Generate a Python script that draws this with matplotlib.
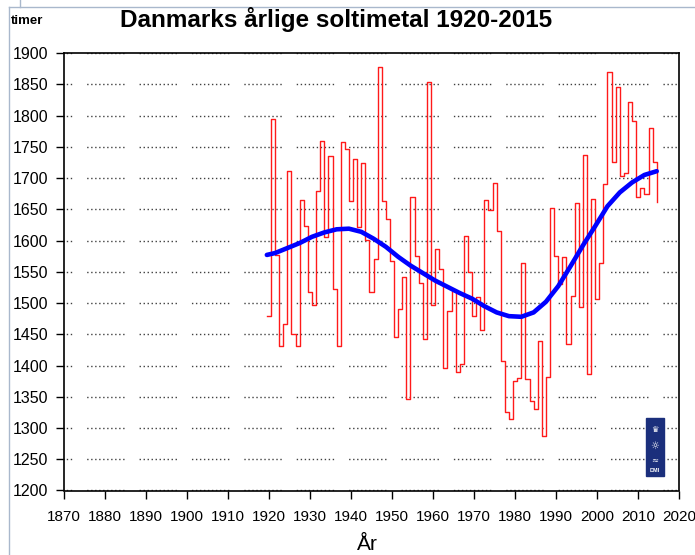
# Danmarks årlige soltimetal 1920-2015 (DMI-style chart)
import numpy as np
import matplotlib

matplotlib.use("Agg")
import matplotlib.pyplot as plt
from matplotlib.lines import Line2D
from matplotlib.patches import Rectangle

plt.rcParams.update(
    {
        "font.family": ["Liberation Sans", "DejaVu Sans"],
        "lines.scale_dashes": False,
    }
)

# ---- data -----------------------------------------------------------------
years = np.arange(1920, 2016)
sunshine = [
    1480, 1794, 1577, 1431, 1466, 1712, 1450, 1431, 1665, 1623,  # 1920-29
    1518, 1497, 1679, 1760, 1606, 1736, 1523, 1431, 1757, 1746,  # 1930-39
    1663, 1730, 1622, 1724, 1601, 1518, 1571, 1877, 1663, 1634,  # 1940-49
    1567, 1445, 1491, 1542, 1347, 1670, 1576, 1532, 1442, 1853,  # 1950-59
    1497, 1586, 1555, 1396, 1488, 1520, 1389, 1402, 1607, 1550,  # 1960-69
    1480, 1509, 1457, 1665, 1649, 1692, 1616, 1407, 1326, 1314,  # 1970-79
    1376, 1380, 1564, 1378, 1344, 1331, 1440, 1288, 1382, 1652,  # 1980-89
    1576, 1530, 1573, 1434, 1512, 1660, 1493, 1737, 1387, 1666,  # 1990-99
    1507, 1564, 1690, 1869, 1725, 1846, 1703, 1708, 1821, 1792,  # 2000-09
    1669, 1684, 1674, 1780, 1726, 1661,                          # 2010-15
]

# smoothed trend (blue curve)
trend_years = np.array([
    1920, 1922, 1925, 1928, 1931, 1934, 1937, 1940, 1943, 1946, 1949,
    1952, 1955, 1958, 1961, 1964, 1967, 1970, 1973, 1976, 1979, 1982,
    1985, 1988, 1991, 1994, 1997, 2000, 2003, 2006, 2009, 2012, 2015,
])
trend = [
    1577, 1580, 1588, 1596, 1606, 1613, 1618, 1619, 1614, 1603, 1590,
    1574, 1560, 1548, 1536, 1526, 1516, 1507, 1495, 1485, 1479, 1478,
    1485, 1502, 1527, 1559, 1592, 1623, 1655, 1677, 1693, 1705, 1711,
]

xticks = np.arange(1870, 2021, 10)
yticks = np.arange(1200, 1901, 50)

# ---- figure ----------------------------------------------------------------
W, H = 695, 555
fig = plt.figure(figsize=(W / 100, H / 100), dpi=100)
ax = fig.add_axes([63.7 / W, 1 - 490.5 / H, (679.3 - 63.7) / W, (490.5 - 53.1) / H])

# dotted grid with the periodic gaps of the original
dots = [1.0, 1.88] * 9 + [1.0, 10.8]
ax.grid(axis="y", color="#404040", lw=1.0, linestyle=(21.4, dots))
ax.set_axisbelow(True)

ax.step(years - 0.5, sunshine, where="post", color="#ff1a1a", lw=1.0, zorder=2)
ax.plot(trend_years - 0.5, trend, color="#0000ff", lw=3.3, zorder=3,
        solid_capstyle="round")

ax.set_xlim(1870, 2020)
ax.set_ylim(1200, 1900)
ax.set_xticks(xticks)
ax.set_yticks(yticks)
ax.tick_params(axis="x", direction="out", length=6, width=1, pad=8,
               labelsize=11, top=False)
ax.tick_params(axis="y", direction="out", length=6, width=1, pad=5,
               labelsize=11.5, right=False)
for s in ax.spines.values():
    s.set_linewidth(1.2)
    s.set_color("black")

fig.text(0.484, 1 - 20 / H, "Danmarks årlige soltimetal 1920-2015",
         ha="center", va="center", fontsize=17.5, fontweight="bold")
fig.text(27 / W, 1 - 21 / H, "timer", ha="center", va="center",
         fontsize=9.5, fontweight="bold")
fig.text(367 / W, 1 - 545 / H, "År", ha="center", va="center", fontsize=15)

# DMI logo box
fig.patches.append(Rectangle((646 / W, 1 - 476 / H), 18 / W, 58 / H,
                             transform=fig.transFigure, color="#1b2f7c",
                             zorder=5))
fig.text(655 / W, 1 - 430 / H, "♛", color="white", ha="center", va="center",
         fontsize=6, family="DejaVu Sans", zorder=6)
fig.text(655 / W, 1 - 446 / H, "☼", color="white", ha="center", va="center",
         fontsize=7, family="DejaVu Sans", zorder=6)
fig.text(655 / W, 1 - 460 / H, "≈", color="white", ha="center", va="center",
         fontsize=6, family="DejaVu Sans", zorder=6)
fig.text(655 / W, 1 - 470 / H, "DMI", color="white", ha="center", va="center",
         fontsize=4, fontweight="bold", zorder=6)

# light outer frame of the screenshot
frame = "#a9b8cc"
fig.lines.append(Line2D([9 / W, 9 / W], [0, 1 - 6.7 / H], transform=fig.transFigure,
                        color=frame, lw=1))
fig.lines.append(Line2D([9 / W, 1], [1 - 6.7 / H, 1 - 6.7 / H],
                        transform=fig.transFigure, color=frame, lw=1))
fig.lines.append(Line2D([20 / W, 20 / W], [1 - 6.7 / H, 1], transform=fig.transFigure,
                        color=frame, lw=1))

fig.savefig("out.png", dpi=100)
